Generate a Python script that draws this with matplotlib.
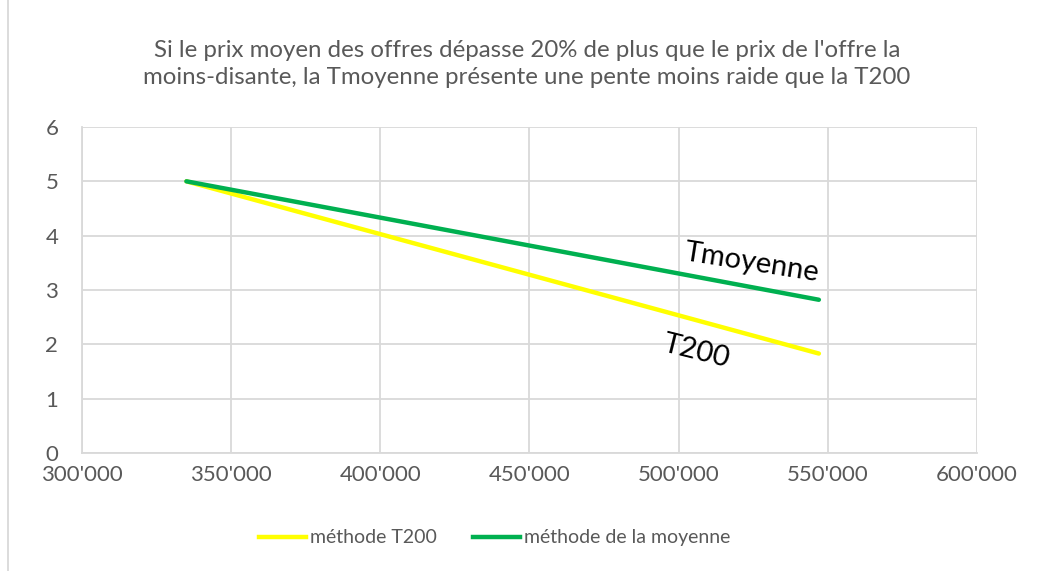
import matplotlib
matplotlib.use("Agg")
import matplotlib.pyplot as plt
from matplotlib.ticker import FuncFormatter
from matplotlib.lines import Line2D

plt.rcParams['font.family'] = ['Lato', 'DejaVu Sans']

# data
prix = [335000, 547000]
note_t200 = [5.0, 1.83]
note_moyenne = [5.0, 2.82]
x_ticks = [300000, 350000, 400000, 450000, 500000, 550000, 600000]
y_ticks = [0, 1, 2, 3, 4, 5, 6]

titre = ("Si le prix moyen des offres dépasse 20% de plus que le prix de l'offre la\n"
         "moins-disante, la Tmoyenne présente une pente moins raide que la T200")

grey = "#595959"
gridc = "#d9d9d9"

fig = plt.figure(figsize=(10.43, 5.71), dpi=100)
ax = fig.add_axes([0.0786, 0.2067, 0.8581, 0.5709])

ax.plot(prix, note_t200, color="#ffff00", lw=3.2, solid_capstyle="round", label="méthode T200", zorder=3)
ax.plot(prix, note_moyenne, color="#00b050", lw=3.2, solid_capstyle="round", label="méthode de la moyenne", zorder=4)

ax.set_xlim(300000, 600000)
ax.set_ylim(0, 6)
ax.set_xticks(x_ticks)
ax.set_yticks(y_ticks)
ax.xaxis.set_major_formatter(FuncFormatter(lambda v, p: f"{int(v):,}".replace(",", "'")))
ax.grid(True, color=gridc, lw=1.3)
ax.set_axisbelow(True)
for s in ["top", "right"]:
    ax.spines[s].set_visible(False)
for s in ["left", "bottom"]:
    ax.spines[s].set_color(gridc)
    ax.spines[s].set_linewidth(1.3)
ax.tick_params(length=0, colors=grey, labelsize=16)
ax.tick_params(axis="y", pad=17)
ax.tick_params(axis="x", pad=9)

fig.text(0.505, 0.888, titre, ha="center", va="center", fontsize=17.3, color=grey, linespacing=1.4)

ax.text(524500, 3.5, "Tmoyenne", rotation=-9, fontsize=21, color="black", ha="center", va="center")
ax.text(506000, 1.86, "T200", rotation=-14, fontsize=21, color="black", ha="center", va="center")

handles = [Line2D([], [], color="#ffff00", lw=3.2), Line2D([], [], color="#00b050", lw=3.2)]
fig.legend(handles, ["méthode T200", "méthode de la moyenne"], loc="center", bbox_to_anchor=(0.474, 0.058),
           ncol=2, frameon=False, fontsize=14, labelcolor=grey, handlelength=2.42, handletextpad=0.2,
           columnspacing=1.85)

fig.add_artist(Line2D([0.0077, 0.0077], [0, 1], color=gridc, lw=1.3, transform=fig.transFigure))

fig.savefig("out.png", dpi=100)
